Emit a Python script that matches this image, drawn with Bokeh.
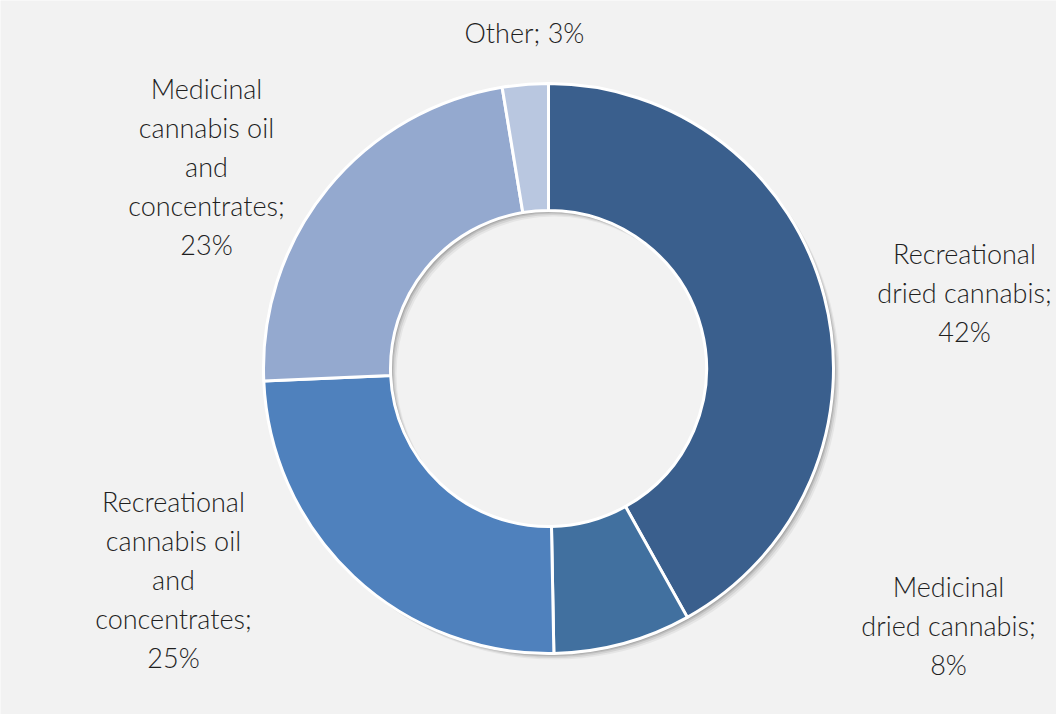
import math
from bokeh.plotting import figure
from bokeh.models import Range1d, ColumnDataSource
from bokeh.core.properties import value
from bokeh.embed import file_html
from bokeh.resources import INLINE

# ---- data ----
categories = [
    "Recreational dried cannabis",
    "Medicinal dried cannabis",
    "Recreational cannabis oil and concentrates",
    "Medicinal cannabis oil and concentrates",
    "Other",
]
shares = [41.9, 7.8, 24.6, 23.1, 2.6]
label_lines = [
    ["Recreational", "dried cannabis;"],
    ["Medicinal", "dried cannabis;"],
    ["Recreational", "cannabis oil", "and", "concentrates;"],
    ["Medicinal", "cannabis oil", "and", "concentrates;"],
    ["Other;"],
]
colors = ["#3a5f8d", "#41709f", "#4f81bd", "#94a9cf", "#b9c7e0"]

# ---- layout ----
W, H = 1056, 714
CX, CY = 548, H - 368
R_OUT, R_IN = 285, 158
label_pos = [(964, 253), (948, 586), (173, 501), (206, 88), (524, 32)]
single_line = [False, False, False, False, True]
LINE_H = 39
FONT = "Lato Light"
FSIZE = "27px"

p = figure(width=W, height=H, x_range=Range1d(0, W), y_range=Range1d(0, H),
           output_backend="svg", toolbar_location=None, min_border=0)
p.axis.visible = False
p.grid.visible = False
p.outline_line_color = None
p.background_fill_color = "#f2f2f2"
p.border_fill_color = "#f2f2f2"

total = sum(shares)
starts, ends = [], []
cum = 0.0
for s in shares:
    starts.append(math.pi / 2 - 2 * math.pi * cum / total)
    cum += s
    ends.append(math.pi / 2 - 2 * math.pi * cum / total)

# shadow
for off, a in [(2, 0.10), (3, 0.10), (4.5, 0.08), (6, 0.05)]:
    p.annular_wedge(x=CX + off, y=CY - off, inner_radius=R_IN, outer_radius=R_OUT,
                    start_angle=0, end_angle=2 * math.pi, fill_color="#000000",
                    fill_alpha=a, line_color=None)

src = ColumnDataSource(dict(start=starts, end=ends, color=colors, cat=categories))
p.annular_wedge(x=CX, y=CY, inner_radius=R_IN, outer_radius=R_OUT, start_angle="start",
                end_angle="end", direction="clock", fill_color="color", line_color="white",
                line_width=3, source=src)

# labels
tx, ty, tt = [], [], []
for i, s in enumerate(shares):
    pct = f"{round(s)}%"
    lines = list(label_lines[i])
    if single_line[i]:
        lines = [lines[0] + " " + pct]
    else:
        lines.append(pct)
    x0, y0 = label_pos[i]
    for j, ln in enumerate(lines):
        tx.append(x0)
        ty.append(H - (y0 + j * LINE_H))
        tt.append(ln)

p.text(x=tx, y=ty, text=tt, text_font=value(FONT), text_font_size=FSIZE,
       text_color="#1f1f1f", text_align="center", text_baseline="middle")

open("out.html", "w").write(file_html(p, INLINE))
